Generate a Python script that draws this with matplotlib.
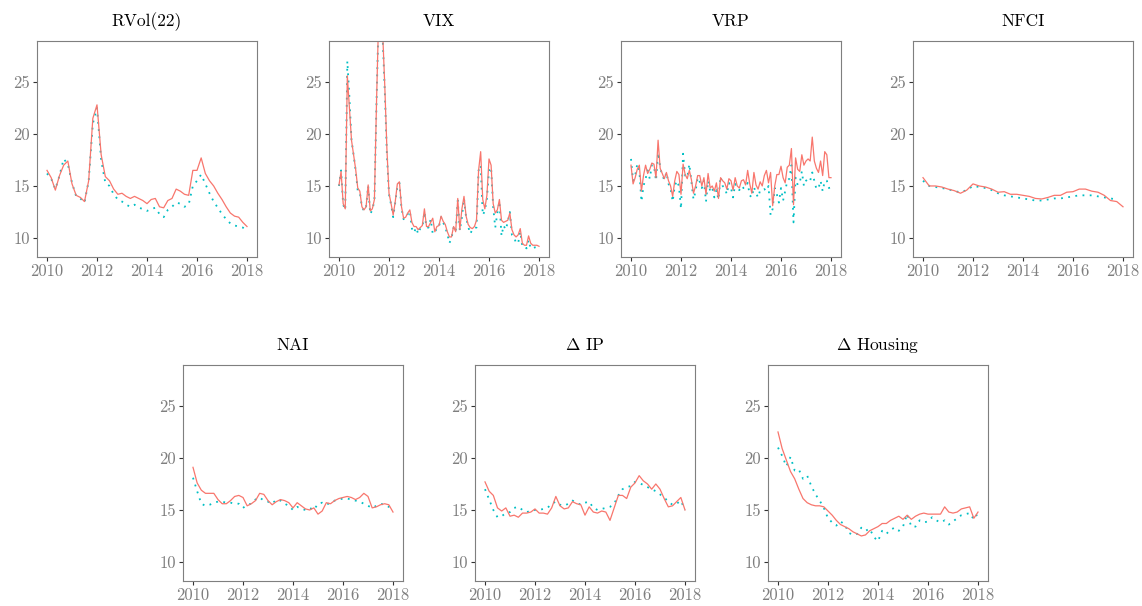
import numpy as np
import matplotlib
matplotlib.use("Agg")
import matplotlib.pyplot as plt

# colours (ggplot default pair)
RED = "#F8766D"
CYAN = "#00BFC4"

# ---- data ----
# RVol(22), bimonthly 2010-2018
rvol_red = [16.5, 15.8, 14.6, 16.0, 17.0, 17.4, 15.2, 14.1, 13.9, 13.5, 15.5, 21.5, 22.8,
            18.0, 15.9, 15.5, 14.7, 14.2, 14.3, 14.0, 13.8, 14.0, 13.8, 13.6, 13.3, 13.7,
            13.8, 13.0, 12.9, 13.6, 13.8, 14.7, 14.5, 14.2, 14.1, 16.5, 16.5, 17.7, 16.2,
            15.5, 15.0, 14.3, 13.7, 13.0, 12.4, 12.1, 12.0, 11.5, 11.1]
rvol_cyan = [16.2, 15.7, 14.7, 16.0, 17.6, 17.1, 15.3, 14.0, 13.8, 13.4, 15.5, 21.0, 22.5,
             17.5, 15.3, 15.0, 14.2, 13.7, 13.5, 13.2, 13.0, 13.2, 12.9, 12.8, 12.6, 12.8,
             12.9, 12.3, 12.0, 12.7, 13.0, 13.4, 13.3, 13.0, 13.2, 15.0, 15.5, 16.1, 15.2,
             14.3, 13.5, 12.9, 12.3, 11.8, 11.4, 11.2, 11.1, 11.0, 10.7]

# VIX, monthly
vix_red = [15.1, 16.4, 13.3, 12.8, 25.6, 22.5, 19.4, 18.0, 16.6, 14.8, 14.5, 13.0, 12.7,
           13.0, 15.1, 12.6, 12.8, 13.7, 23.0, 31.0, 32.0, 29.5, 24.5, 18.5, 14.3, 13.3,
           12.2, 13.5, 15.2, 15.4, 13.0, 11.9, 12.0, 12.4, 12.7, 11.5, 11.1, 11.1, 10.8,
           11.0, 11.2, 12.8, 11.1, 11.1, 11.5, 11.9, 10.6, 11.1, 11.2, 12.1, 11.6, 11.3,
           10.6, 10.1, 10.1, 11.1, 10.6, 13.8, 10.8, 12.8, 14.0, 12.1, 11.3, 11.0, 10.9,
           11.1, 11.7, 16.5, 18.3, 13.7, 12.8, 14.1, 17.6, 17.0, 13.3, 12.4, 12.7, 13.7,
           11.7, 11.5, 11.6, 11.7, 12.4, 10.8, 10.3, 10.1, 10.3, 10.9, 9.5, 9.3, 9.3,
           10.2, 9.5, 9.3, 9.3, 9.3, 9.2]
vix_cyan = [15.0, 16.5, 13.2, 12.7, 27.0, 23.5, 19.4, 18.0, 16.5, 14.5, 14.4, 13.0, 12.6,
            13.0, 15.0, 12.3, 12.7, 13.6, 23.0, 31.0, 32.0, 29.0, 24.0, 18.0, 14.2, 13.2,
            12.0, 13.4, 15.0, 15.3, 12.9, 11.8, 11.9, 12.3, 12.6, 10.9, 10.5, 11.0, 10.4,
            10.9, 11.0, 12.5, 11.0, 11.0, 11.8, 10.4, 10.5, 11.0, 11.1, 12.0, 11.5, 11.0,
            10.4, 9.5, 10.0, 11.0, 10.6, 13.6, 10.7, 12.0, 13.8, 12.0, 11.1, 10.4, 10.8,
            11.0, 11.0, 16.5, 17.0, 12.2, 12.6, 13.8, 16.5, 16.8, 13.0, 11.0, 12.4, 13.5,
            10.2, 11.2, 10.8, 11.5, 12.5, 10.3, 10.1, 9.5, 9.5, 10.6, 9.2, 9.2, 9.0,
            9.8, 9.0, 9.0, 9.1, 9.0, 9.0]

# VRP, monthly
vrp_red = [17.0, 15.2, 15.8, 16.6, 17.0, 14.5, 16.0, 17.0, 16.2, 16.6, 17.2, 17.1, 15.8,
           19.4, 16.7, 16.2, 15.7, 16.3, 15.5, 15.0, 14.0, 15.5, 16.4, 16.1, 14.2, 17.1,
           16.1, 15.7, 16.5, 15.6, 14.3, 15.0, 16.0, 16.0, 15.0, 15.8, 14.2, 16.2, 14.8,
           15.0, 14.5, 15.3, 13.8, 15.8, 15.5, 15.3, 14.7, 15.7, 15.5, 14.6, 15.8, 15.0,
           14.8, 15.5, 15.6, 15.1, 16.5, 15.2, 14.3, 16.3, 15.1, 14.7, 15.4, 15.0, 16.0,
           16.5, 15.3, 16.3, 13.1, 15.0, 16.1, 16.1, 16.9, 15.8, 15.3, 16.8, 17.0, 18.6,
           13.2, 17.7, 16.6, 16.4, 18.0, 17.0, 17.4, 17.6, 17.4, 19.7, 17.4, 16.7, 16.3,
           17.4, 16.0, 18.3, 18.0, 15.8, 15.8]
vrp_cyan = [17.6, 15.5, 16.0, 17.1, 16.5, 13.5, 15.0, 15.7, 16.5, 15.7, 17.0, 17.0, 15.5,
            18.2, 16.8, 16.0, 15.6, 16.3, 15.2, 14.8, 13.5, 15.0, 15.5, 15.0, 12.8, 18.1,
            16.0, 15.8, 17.1, 15.4, 13.7, 14.5, 15.8, 15.4, 14.8, 15.5, 13.5, 15.5, 14.5,
            14.8, 13.9, 14.6, 13.7, 15.9, 15.0, 14.8, 14.2, 15.3, 14.8, 13.9, 15.2, 14.7,
            14.6, 15.0, 14.8, 14.8, 15.3, 14.1, 13.9, 14.9, 14.3, 13.9, 14.6, 14.6, 14.7,
            14.5, 15.0, 12.2, 12.8, 14.8, 14.2, 13.4, 14.8, 13.6, 14.5, 15.5, 15.7, 17.0,
            11.5, 15.8, 15.1, 15.3, 16.4, 15.0, 15.5, 15.7, 15.5, 16.3, 15.5, 14.7, 14.8,
            15.5, 14.5, 15.5, 15.5, 14.8, 14.9]

# NFCI, quarterly
nfci_red = [15.8, 15.0, 15.0, 14.9, 14.7, 14.55, 14.3, 14.6, 15.2, 15.0, 14.9, 14.7,
            14.4, 14.45, 14.2, 14.2, 14.1, 14.0, 13.8, 13.75, 13.9, 14.1, 14.1, 14.4,
            14.45, 14.7, 14.7, 14.5, 14.4, 14.1, 13.6, 13.5, 13.0]
nfci_cyan = [15.5, 15.0, 14.9, 14.8, 14.7, 14.5, 14.4, 14.6, 15.0, 14.9, 14.8, 14.6,
             14.3, 14.1, 14.0, 13.9, 13.8, 13.7, 13.6, 13.6, 13.7, 13.8, 13.8, 13.9,
             14.0, 14.1, 14.1, 14.1, 14.0, 13.9, 13.8, 13.7]

# NAI, bimonthly
nai_red = [19.1, 17.6, 16.9, 16.6, 16.6, 16.6, 16.0, 15.6, 15.6, 15.9, 16.3, 16.4, 16.2,
           15.4, 15.6, 15.9, 16.6, 16.5, 15.9, 15.5, 15.8, 16.0, 15.9, 15.7, 15.2, 15.7,
           15.4, 15.1, 15.0, 15.2, 14.6, 14.9, 15.7, 15.6, 15.9, 16.1, 16.2, 16.3, 16.2,
           16.0, 16.2, 16.6, 16.3, 15.2, 15.3, 15.5, 15.6, 15.5, 14.8]
nai_cyan = [18.1, 16.8, 15.6, 15.4, 15.5, 15.7, 15.8, 15.8, 15.7, 15.7, 15.6, 15.6, 15.2,
            15.5, 15.6, 16.0, 16.2, 15.9, 15.8, 15.6, 16.0, 15.9, 15.6, 15.4, 15.0, 15.3,
            15.1, 15.0, 15.2, 15.0, 15.6, 15.7, 15.5, 15.7, 15.9, 16.0, 16.1, 16.1, 16.0,
            15.9, 15.8, 15.6, 15.4, 15.2, 15.4, 15.6, 15.5, 15.3, 15.0]

# Delta IP, bimonthly
ip_red = [17.7, 16.8, 16.4, 15.2, 14.9, 15.2, 14.4, 14.5, 14.3, 14.7, 14.7, 14.8, 15.1,
          14.7, 14.7, 14.6, 15.2, 16.3, 15.4, 15.1, 15.2, 15.8, 15.6, 15.5, 14.5, 15.3,
          14.8, 14.7, 14.9, 14.8, 14.0, 15.2, 16.4, 16.4, 16.1, 17.2, 17.6, 18.3, 17.8,
          17.5, 17.0, 17.5, 17.0, 16.1, 15.3, 15.4, 15.8, 16.2, 15.0]
ip_cyan = [17.0, 16.0, 15.0, 14.3, 14.4, 14.7, 14.8, 15.2, 15.3, 15.0, 14.8, 14.9, 15.0,
           15.0, 15.1, 15.2, 15.6, 15.8, 15.5, 15.4, 15.6, 15.9, 15.7, 15.5, 15.7, 15.8,
           15.2, 15.0, 15.1, 15.2, 15.3, 15.6, 16.4, 17.0, 17.2, 17.3, 17.7, 17.6, 17.4,
           17.2, 17.0, 16.8, 16.5, 16.2, 15.8, 15.5, 15.6, 15.9, 15.0]

# Delta Housing, bimonthly
hous_red = [22.5, 20.9, 19.8, 18.7, 18.0, 17.0, 16.1, 15.7, 15.5, 15.4, 15.4, 15.3, 14.9,
            14.5, 14.0, 13.6, 13.4, 13.2, 12.9, 12.7, 12.5, 12.6, 13.0, 13.2, 13.4, 13.7,
            13.7, 14.0, 14.2, 14.4, 14.1, 14.5, 14.1, 14.4, 14.6, 14.7, 14.6, 14.6, 14.6,
            14.6, 15.3, 14.8, 14.7, 14.8, 15.1, 15.2, 15.3, 14.2, 14.8]
hous_cyan = [21.0, 20.2, 19.2, 20.1, 18.8, 18.9, 18.0, 18.3, 17.3, 16.5, 15.9, 15.2, 14.2,
             13.8, 13.5, 13.9, 13.6, 12.8, 12.6, 12.7, 13.3, 13.0, 13.2, 12.4, 12.0, 13.0,
             12.7, 13.1, 13.3, 13.0, 13.4, 14.6, 13.4, 13.4, 14.0, 13.8, 13.9, 14.3, 14.0,
             13.8, 14.0, 13.6, 13.9, 14.2, 14.5, 14.6, 14.7, 14.1, 14.7]

titles = ["RVol(22)", "VIX", "VRP", "NFCI", "NAI", r"$\Delta$ IP", r"$\Delta$ Housing"]
series = [(rvol_red, rvol_cyan), (vix_red, vix_cyan), (vrp_red, vrp_cyan),
          (nfci_red, nfci_cyan), (nai_red, nai_cyan), (ip_red, ip_cyan),
          (hous_red, hous_cyan)]
# last date of the cyan NFCI series ends a bit before 2018
ends = [(2018, 2018)] * 3 + [(2018, 2017.75)] + [(2018, 2018)] * 3

plt.rcParams["font.family"] = "cmr10"
plt.rcParams["mathtext.fontset"] = "cm"
plt.rcParams["axes.formatter.use_mathtext"] = True

W, H = 1142, 606
fig = plt.figure(figsize=(W / 100, H / 100), dpi=100)

# panel boxes in pixels (left, top)
boxes = [(37, 41), (329, 41), (621, 41), (913, 41),
         (183, 365), (475, 365), (768, 365)]
pw, ph = 220, 216

for (lx, ty), title, (r, c), (er, ec) in zip(boxes, titles, series, ends):
    ax = fig.add_axes([lx / W, 1 - (ty + ph) / H, pw / W, ph / H])
    tr = np.linspace(2010, er, len(r))
    tc = np.linspace(2010, ec, len(c))
    ax.plot(tc, c, color=CYAN, lw=1.3, ls=(0, (1, 3)))
    ax.plot(tr, r, color=RED, lw=0.9)
    ax.set_xlim(2009.6, 2018.4)
    ax.set_ylim(8.17, 28.94)
    ax.set_xticks([2010, 2012, 2014, 2016, 2018])
    ax.set_xticklabels(["2010", "2012", "2014", "2016", "2018"])
    ax.set_yticks([10, 15, 20, 25])
    ax.set_yticklabels(["10", "15", "20", "25"])
    ax.tick_params(labelsize=12, labelcolor="#7f7f7f", color="#333333",
                   length=3, width=0.8, pad=2)
    for s in ax.spines.values():
        s.set_color("#7f7f7f")
        s.set_linewidth(0.8)
    ax.set_title(title, fontsize=12.5, pad=11)

fig.savefig("out.png", dpi=100)
